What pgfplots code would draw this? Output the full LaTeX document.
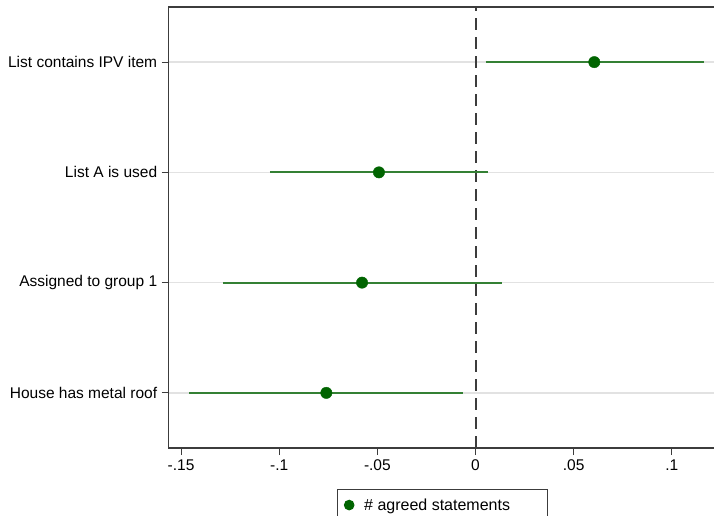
\documentclass[border=0pt]{standalone}
\usepackage{pgfplots}
\pgfplotsset{compat=1.18}
\usepackage{fontspec}
\setmainfont{Liberation Sans}
\definecolor{ptgreen}{RGB}{0,100,0}
\definecolor{cigreen}{RGB}{52,128,52}
\definecolor{gridgray}{RGB}{226,226,226}
\definecolor{axgray}{RGB}{60,60,60}
\begin{document}
\begin{tikzpicture}
\begin{axis}[
  name=ax,
  scale only axis, width=552.2pt, height=441pt,
  xmin=-0.1563, xmax=0.125, ymin=0.5, ymax=4.5,
  xtick={-0.15,-0.1,-0.05,0,0.05,0.1},
  xticklabels={-.15,-.1,-.05,0,.05,.1},
  ytick={1,2,3,4},
  yticklabels={House has metal roof,Assigned to group 1,List A is used,List contains IPV item},
  tick align=outside, major tick length=7pt,
  tick pos=left,
  ymajorgrids, grid style={gridgray, line width=1.4pt},
  axis line style={axgray, line width=1.5pt},
  tick style={axgray, line width=1pt},
  font=\fontsize{15.5}{18}\selectfont,
  /pgf/number format/assume math mode=true,
  xticklabel style={yshift=-1pt},
  yticklabel style={xshift=-1pt},
  clip=false,
  legend style={at={(0.3042,-0.093)}, anchor=north west, draw=axgray, line width=1pt,
    font=\fontsize{16}{18}\selectfont, inner xsep=5pt, inner ysep=7pt},
  legend cell align=left,
]
\addplot[draw=axgray, line width=2pt, dash pattern=on 12pt off 7pt, forget plot] coordinates {(0,0.5) (0,4.5)};
\addplot[cigreen, line width=2pt, forget plot] coordinates {(0.0052,4) (0.1166,4)};
\addplot[cigreen, line width=2pt, forget plot] coordinates {(-0.1047,3) (0.0064,3)};
\addplot[cigreen, line width=2pt, forget plot] coordinates {(-0.1286,2) (0.0135,2)};
\addplot[cigreen, line width=2pt, forget plot] coordinates {(-0.1459,1) (-0.0064,1)};
\addplot[only marks, mark=*, mark size=5.7pt, ptgreen, mark options={fill=ptgreen, draw=ptgreen},
  legend image code/.code={\path[draw=none,fill=none] (-7pt,0pt) -- (13pt,0pt); \fill[ptgreen] (0pt,0pt) circle (4.8pt);}]
  coordinates {(0.0605,4) (-0.0492,3) (-0.0578,2) (-0.0760,1)};
\addlegendentry{\makebox[176pt][l]{\# agreed statements}}
\end{axis}
\pgfresetboundingbox
\path (ax.south west) ++(-168.7pt,-68pt) coordinate (bl);
\useasboundingbox (bl) rectangle ++(714pt,516pt);
\end{tikzpicture}
\end{document}
